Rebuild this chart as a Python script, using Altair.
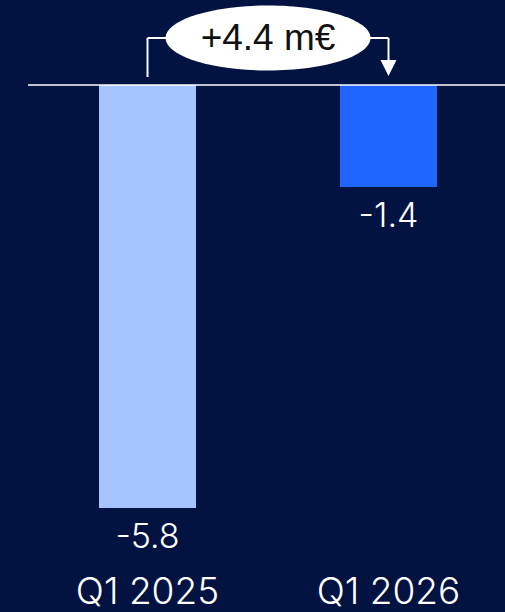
import altair as alt
import pandas as pd

# ---- data ----
categories = ["Q1 2025", "Q1 2026"]
values = [-5.8, -1.4]
value_labels = ["-5.8", "-1.4"]
bar_colors = ["#A6C4FF", "#1F66FF"]
delta_label = "+4.4 m€"

# ---- style constants ----
BG = "#021241"
W, H = 505, 560
Y_DOMAIN = [-6.513, 1.1655]
P_INNER, P_OUTER = 0.5975, 0.4108
X_RANGE = [0, 536]
BRACKET_Y = 0.644
LEFT_START_Y = 0.11
ARROW_BASE_Y = 0.33
ARROW_Y = 0.233
FONT = "Inter"
BUBBLE_FONT = "Liberation Sans"

STEP = (X_RANGE[1] - X_RANGE[0]) / (len(categories) - P_INNER + 2 * P_OUTER)
BANDWIDTH = STEP * (1 - P_INNER)
HALF_STEP = STEP / 2

df = pd.DataFrame({"cat": categories, "value": values, "label": value_labels, "color": bar_colors})
ann = pd.DataFrame({"from": [categories[0]], "to": [categories[1]], "text": [delta_label]})

xscale = alt.Scale(domain=categories, range=X_RANGE, paddingInner=P_INNER, paddingOuter=P_OUTER)
yscale = alt.Scale(domain=Y_DOMAIN, nice=False, zero=False)

base = alt.Chart(df)

bars = base.mark_bar().encode(
    x=alt.X("cat:N", scale=xscale, sort=categories,
            axis=alt.Axis(title=None, domain=False, ticks=False, tickSize=0, labelAngle=0,
                          labelFont=FONT, labelFontSize=37, labelFontWeight=300, labelColor="white",
                          labelBaseline="alphabetic", labelPadding=43, grid=False)),
    y=alt.Y("value:Q", scale=yscale, axis=None),
    y2=alt.datum(0),
    color=alt.Color("color:N", scale=None),
)

labels = base.mark_text(font=FONT, fontSize=34, fontWeight=300, color="white", baseline="middle", dy=30).encode(
    x=alt.X("cat:N", scale=xscale, sort=categories),
    y=alt.Y("value:Q", scale=yscale),
    text="label:N",
)

zero = alt.Chart(pd.DataFrame({"z": [0]})).mark_rule(color="white", strokeWidth=1.5).encode(
    y=alt.Y("z:Q", scale=yscale),
    x=alt.value(28),
    x2=alt.value(W),
)

a = alt.Chart(ann).transform_calculate(
    y0=str(LEFT_START_Y), y1=str(BRACKET_Y), y2=str(ARROW_BASE_Y), ya=str(ARROW_Y)
)

left_v = a.mark_rule(color="white", strokeWidth=2).encode(
    x=alt.X("from:N", scale=xscale),
    y=alt.Y("y0:Q", scale=yscale),
    y2="y1:Q",
)

horiz = a.mark_rule(color="white", strokeWidth=2).encode(
    x=alt.X("from:N", scale=xscale),
    x2="to:N",
    y=alt.Y("y1:Q", scale=yscale),
)

right_v = a.mark_rule(color="white", strokeWidth=2).encode(
    x=alt.X("to:N", scale=xscale),
    y=alt.Y("y1:Q", scale=yscale),
    y2="y2:Q",
)

arrow = a.mark_point(shape="M-1,-1L1,-1L0,1Z", filled=True, color="white", opacity=1, size=256, strokeWidth=0).encode(
    x=alt.X("to:N", scale=xscale),
    y=alt.Y("ya:Q", scale=yscale),
)

ellipse = a.mark_point(shape="M-1,0A1,0.317,0,1,1,1,0A1,0.317,0,1,1,-1,0Z", filled=True,
                       color="white", opacity=1, size=205 * 205, strokeWidth=0).encode(
    x=alt.X("from:N", scale=xscale),
    xOffset=alt.value(HALF_STEP + BANDWIDTH / 2),
    y=alt.Y("y1:Q", scale=yscale),
)

ann_text = a.mark_text(font=BUBBLE_FONT, fontSize=37, color="#111111", baseline="middle", dx=HALF_STEP, dy=1).encode(
    x=alt.X("from:N", scale=xscale),
    y=alt.Y("y1:Q", scale=yscale),
    text="text:N",
)

chart = alt.layer(bars, labels, zero, left_v, horiz, right_v, arrow, ellipse, ann_text).properties(
    width=W, height=H, background=BG,
    padding={"left": 0, "top": 0, "right": 0, "bottom": 612 - H},
    autosize=alt.AutoSizeParams(type="none"),
).configure_view(stroke=None)

chart.save("out.html", embed_options={"renderer": "svg", "actions": False})
